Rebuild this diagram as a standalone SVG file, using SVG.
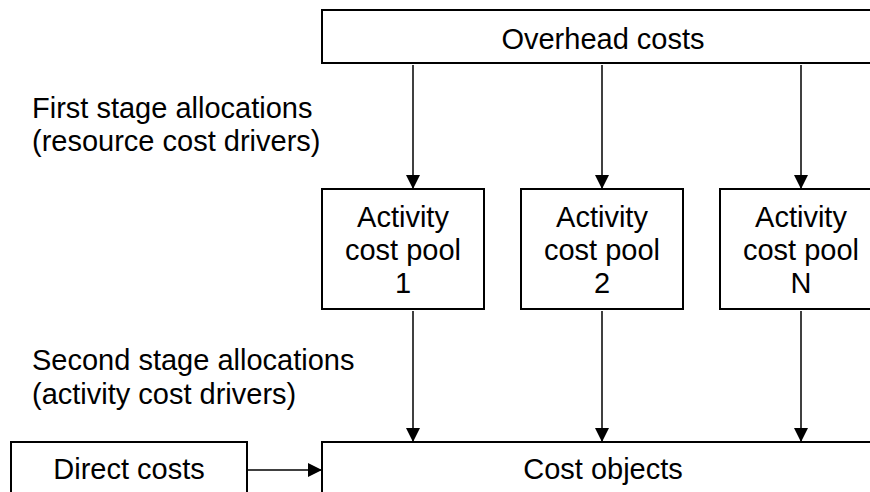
<svg xmlns="http://www.w3.org/2000/svg" width="870" height="492" viewBox="0 0 870 492">
<defs>
<marker id="ah" markerWidth="14" markerHeight="14" refX="14" refY="7" orient="auto" markerUnits="userSpaceOnUse">
<path d="M0,0 L14,7 L0,14 Z" fill="#000"/>
</marker>
<style>
.box{fill:#fff;stroke:#000;stroke-width:2}
.t{font-family:"Liberation Sans",Arial,sans-serif;font-size:29px;fill:#000}
.c{text-anchor:middle}
.ln{stroke:#000;stroke-width:1.5;fill:none;marker-end:url(#ah)}
</style>
</defs>
<rect width="870" height="492" fill="#fff"/>
<g id="overhead">
<rect class="box" x="322" y="10" width="562" height="53"/>
<text class="t c" x="603" y="49">Overhead costs</text>
</g>
<g id="label-first">
<text class="t" x="32" y="118">First stage allocations</text>
<text class="t" x="32" y="151">(resource cost drivers)</text>
</g>
<g id="pool1">
<rect class="box" x="322" y="189" width="162" height="120"/>
<text class="t c" x="403" y="227">Activity</text>
<text class="t c" x="403" y="260">cost pool</text>
<text class="t c" x="403" y="293">1</text>
</g>
<g id="pool2">
<rect class="box" x="521" y="189" width="162" height="120"/>
<text class="t c" x="602" y="227">Activity</text>
<text class="t c" x="602" y="260">cost pool</text>
<text class="t c" x="602" y="293">2</text>
</g>
<g id="poolN">
<rect class="box" x="720" y="189" width="162" height="120"/>
<text class="t c" x="801" y="227">Activity</text>
<text class="t c" x="801" y="260">cost pool</text>
<text class="t c" x="801" y="293">N</text>
</g>
<g id="label-second">
<text class="t" x="32" y="370">Second stage allocations</text>
<text class="t" x="32" y="404">(activity cost drivers)</text>
</g>
<g id="direct">
<rect class="box" x="11" y="442" width="236" height="70"/>
<text class="t c" x="129" y="479">Direct costs</text>
</g>
<g id="costobjects">
<rect class="box" x="322" y="442" width="562" height="70"/>
<text class="t c" x="603" y="479">Cost objects</text>
</g>
<g id="connectors">
<line class="ln" x1="413" y1="65" x2="413" y2="189"/>
<line class="ln" x1="602" y1="65" x2="602" y2="189"/>
<line class="ln" x1="801" y1="65" x2="801" y2="189"/>
<line class="ln" x1="413" y1="311" x2="413" y2="442"/>
<line class="ln" x1="602" y1="311" x2="602" y2="442"/>
<line class="ln" x1="801" y1="311" x2="801" y2="442"/>
<line class="ln" x1="247" y1="470" x2="322" y2="470"/>
</g>
</svg>
